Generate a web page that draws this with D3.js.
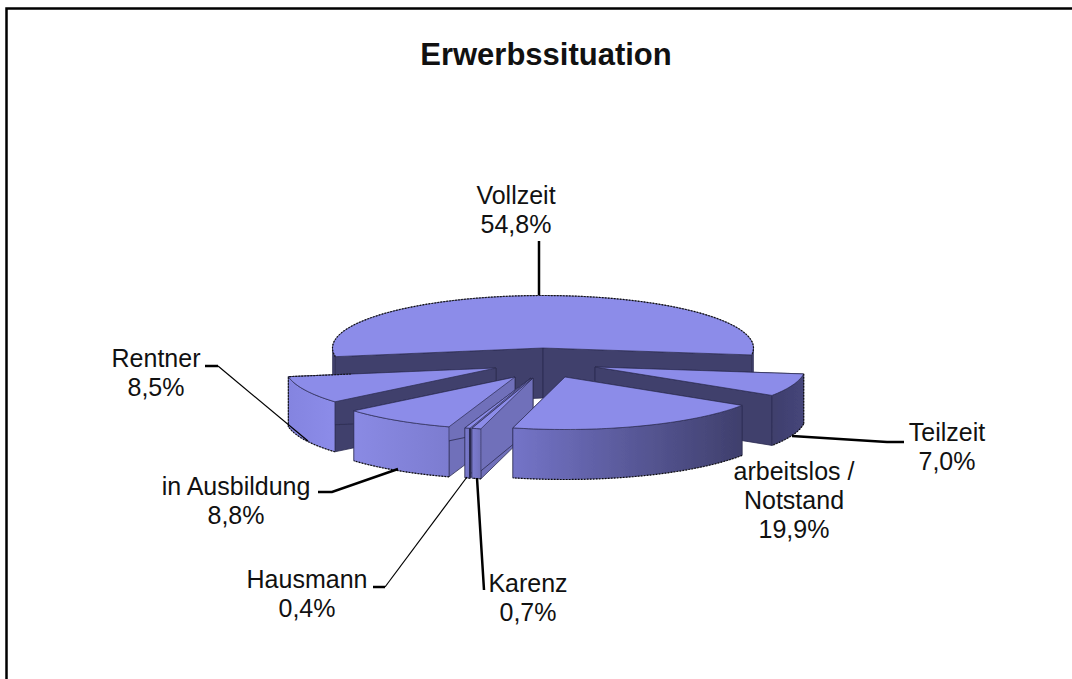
<!DOCTYPE html>
<html>
<head>
<meta charset="utf-8">
<title>Erwerbssituation</title>
<script src="https://cdn.jsdelivr.net/npm/d3@7"></script>
<style>
  html, body { margin: 0; padding: 0; background: #fff; }
  svg { display: block; }
  text { font-family: "Liberation Sans", Arial, sans-serif; fill: #111; }
</style>
</head>
<body>
<div id="chart"></div>
<script>
// values, order = clockwise from Vollzeit
var title = "Erwerbssituation";
var categories = ["Vollzeit", "Teilzeit", "arbeitslos /\nNotstand", "Karenz", "Hausmann", "in Ausbildung", "Rentner"];
var percents = [54.8, 7.0, 19.9, 0.7, 0.4, 8.8, 8.5];

var width = 1072, height = 679;
var cx = 543, cy = 348, rx = 210.5, ry = 52.5, depth = 50;
var topColor = "#8c8ce9", darkWall = "#3f3f6c", midWall = "#6f6fba", edgeColor = "#2c2c50";

// how far each slice is pulled out of the pie, in pixels
var pullX = [0, 52, 22, -10, -12, -28, -47];
var pullY = [0, 19, 29, 30, 30, 29, 20];

// label placement, first baseline of each label
var labelX = [516, 947, 794, 528, 307, 236, 156];
var labelY = [204, 441, 480, 592, 588, 495, 367];
var lineGap = 29;

// pixel scales of the unit pie
var xScale = d3.scaleLinear().domain([-1, 1]).range([cx - rx, cx + rx]);
var yScale = d3.scaleLinear().domain([-1, 1]).range([cy - ry, cy + ry]);

var svg = d3.select("#chart").append("svg")
    .attr("width", width)
    .attr("height", height);

// frame, the right and bottom edges run off the page
svg.append("path")
    .attr("d", "M6.5,679V8.5H1072")
    .attr("fill", "none")
    .attr("stroke", "#000")
    .attr("stroke-width", 2.5);

svg.append("text")
    .attr("x", 546)
    .attr("y", 65)
    .attr("text-anchor", "middle")
    .style("font-size", "31px")
    .style("font-weight", "bold")
    .text(title);

var startAngle = -99.5 * Math.PI / 180;
var slices = d3.pie().sort(null).startAngle(startAngle).endAngle(startAngle + 2 * Math.PI)(percents);

var line = d3.line();

function rimPoint(i, a, dz) {
    return [xScale(Math.sin(a)) + pullX[i], yScale(-Math.cos(a)) + pullY[i] + (dz || 0)];
}
function apex(i, dz) {
    return [xScale(0) + pullX[i], yScale(0) + pullY[i] + (dz || 0)];
}
function rim(i, a0, a1, dz) {
    var n = Math.max(2, Math.ceil(Math.abs(a1 - a0) * 40));
    return d3.range(n + 1).map(function(k) {
        return rimPoint(i, a0 + (a1 - a0) * k / n, dz);
    });
}

var defs = svg.append("defs");
function sideGradient(id, from, to) {
    var g = defs.append("linearGradient").attr("id", id);
    g.append("stop").attr("offset", "0%").attr("stop-color", from);
    g.append("stop").attr("offset", "100%").attr("stop-color", to);
}
sideGradient("outerDark", "#3f3f6c", "#3f3f6c");
sideGradient("outerTeilzeit", "#3f3f6c", "#45457a");
sideGradient("outerArbeitslos", "#7474c8", "#3f3f6c");
sideGradient("outerKarenz", "#7c7cd0", "#7070bc");
sideGradient("outerAusbildung", "#8a8ae4", "#7c7cd0");
sideGradient("outerRentner", "#8484e0", "#8c8ce9");
var outerFill = ["url(#outerDark)", "url(#outerTeilzeit)", "url(#outerArbeitslos)", "url(#outerKarenz)", "url(#outerKarenz)", "url(#outerAusbildung)", "url(#outerRentner)"];
var wallFill = [darkWall, darkWall, midWall, midWall, midWall, midWall, darkWall];

// the source is a soft, upscaled bitmap
defs.append("filter").attr("id", "soft")
  .append("feGaussianBlur").attr("stdDeviation", 0.45);

function dotted(g, pts) {
    g.append("path")
        .attr("d", line(pts))
        .attr("fill", "none")
        .attr("stroke", "#111")
        .attr("stroke-width", 1.2)
        .attr("stroke-dasharray", "1.5,1.5");
}

// paint from back to front
var paintOrder = [0, 6, 1, 5, 4, 3, 2];
var layer = svg.append("g").attr("filter", "url(#soft)");

paintOrder.forEach(function(i) {
    var s = slices[i], g = layer.append("g");
    var a0 = s.startAngle, a1 = s.endAngle;

    // radial walls
    [a0, a1].forEach(function(a) {
        var quad = [apex(i), rimPoint(i, a), rimPoint(i, a, depth), apex(i, depth)];
        g.append("path")
            .attr("d", line(quad) + "Z")
            .attr("fill", wallFill[i])
            .attr("stroke", edgeColor)
            .attr("stroke-width", 0.8);
    });

    // outer wall, only the part of the rim on the viewer's side.
    // Vollzeit wraps over the back, so it has one piece at each end
    var spans = i === 0
        ? [[a0, -Math.PI / 2], [Math.PI / 2, a1]]
        : [[Math.max(a0, Math.PI / 2), Math.min(a1, 3 * Math.PI / 2)]];
    spans.forEach(function(sp) {
        var wall = rim(i, sp[0], sp[1], 0).concat(rim(i, sp[1], sp[0], depth));
        g.append("path")
            .attr("d", line(wall) + "Z")
            .attr("fill", outerFill[i])
            .attr("stroke", edgeColor)
            .attr("stroke-width", 0.6);
        dotted(g, rim(i, sp[0], sp[1], depth));
    });

    // top face
    g.append("path")
        .attr("d", line([apex(i)].concat(rim(i, a0, a1, 0))) + "Z")
        .attr("fill", topColor)
        .attr("stroke", edgeColor)
        .attr("stroke-width", 0.7);

    // dotted silhouette edges, leftover of the source's rendering
    if (i === 0) dotted(g, rim(i, a0, a1, 0));
    if (i === 1) dotted(g, [rimPoint(i, a0), rimPoint(i, a0, depth)]);
    if (i === 6) dotted(g, [rimPoint(i, a1, depth), rimPoint(i, a1), [d3.interpolate(rimPoint(i, a1)[0], apex(i)[0])(0.3), d3.interpolate(rimPoint(i, a1)[1], apex(i)[1])(0.3)]]);
    // Hausmann's dark seam next to Karenz
    if (i === 4) {
        g.append("path")
            .attr("d", line([rimPoint(i, a0), rimPoint(i, a0, depth)]))
            .attr("stroke", edgeColor)
            .attr("stroke-width", 2);
    }
});

// leader lines, [points, stroke width]
var leaders = [
  [[[539, 241], [539, 295]], 2.5],
  [[[792, 436], [887, 442], [904, 442]], 2.5],
  [[[477, 478], [484, 590]], 2.5],
  [[[467, 477], [385, 587]], 1.2],
  [[[373, 587], [385, 587]], 2.5],
  [[[398, 469], [332, 492], [318, 492]], 2.5],
  [[[218, 366], [308, 441]], 1.2],
  [[[205, 366], [218, 366]], 2.5]
];
var leader = svg.append("g").attr("fill", "none").attr("stroke", "#000");
leaders.forEach(function(d) {
    leader.append("path").attr("d", line(d[0])).attr("stroke-width", d[1]);
});

// labels
categories.forEach(function(c, i) {
    var t = svg.append("text")
        .attr("text-anchor", "middle")
        .style("font-size", "25px")
        .attr("transform", "translate(" + labelX[i] + "," + labelY[i] + ")");
    var lines = c.split("\n").concat(percents[i].toFixed(1).replace(".", ",") + "%");
    lines.forEach(function(l, k) {
        t.append("tspan").attr("x", 0).attr("dy", k ? lineGap : 0).text(l);
    });
});
</script>
</body>
</html>
